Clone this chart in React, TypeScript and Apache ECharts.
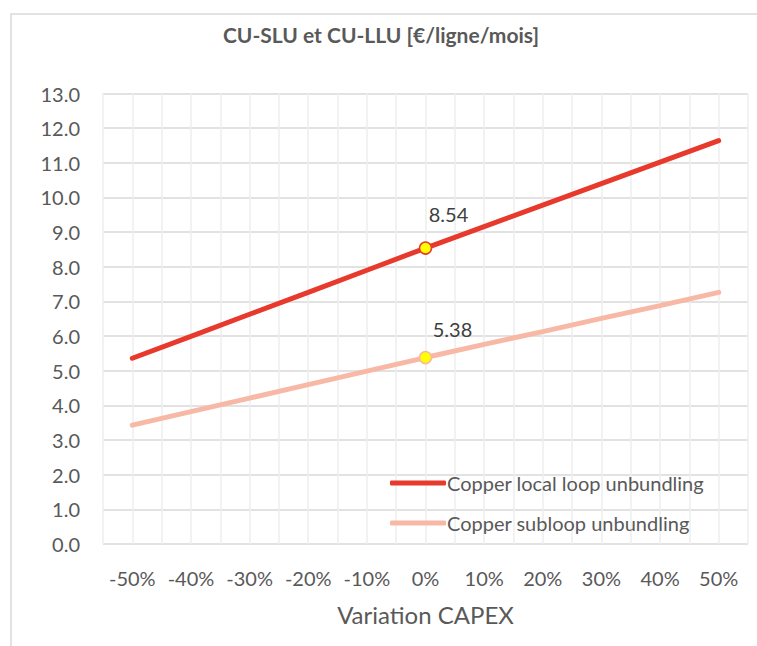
import React, { useEffect, useRef } from "react";
import * as echarts from "echarts";

const categories = [-50, -40, -30, -20, -10, 0, 10, 20, 30, 40, 50];
const llu = [5.36, 5.99, 6.63, 7.26, 7.90, 8.54, 9.16, 9.78, 10.40, 11.02, 11.64];
const slu = [3.43, 3.82, 4.21, 4.60, 4.99, 5.38, 5.76, 6.13, 6.51, 6.88, 7.26];
const seriesNames = ["Copper local loop unbundling", "Copper subloop unbundling"];
const title = "CU-SLU et CU-LLU [€/ligne/mois]";
const xName = "Variation CAPEX";

const FONT = "Lato, 'Open Sans', sans-serif";
const RED = "#E8392D";
const PINK = "#F8B8A6";

function buildData(vals: number[], border: string, labelOffset: number[]) {
  return categories.map((c, i) => {
    if (c === 0) {
      return {
        value: [c, vals[i]],
        symbol: "circle",
        symbolSize: 12,
        itemStyle: { color: "#FFFF00", borderColor: border, borderWidth: 1.5 },
        label: {
          show: true,
          position: "top",
          offset: labelOffset,
          formatter: (p: any) => p.value[1].toFixed(2),
          fontFamily: FONT,
          fontSize: 20,
          color: "#404040",
        },
      };
    }
    return { value: [c, vals[i]] };
  });
}

export default function App() {
  const ref = useRef<HTMLDivElement>(null);
  useEffect(() => {
    const chart = echarts.init(ref.current!, null, { renderer: "svg" });
    chart.setOption({
      animation: false,
      backgroundColor: "#ffffff",
      title: {
        text: title,
        left: 376,
        textAlign: "center",
        top: 19,
        textStyle: { fontFamily: FONT, fontSize: 21, fontWeight: "bold", color: "#595959" },
      },
      graphic: [
        {
          type: "rect",
          shape: { x: 11, y: 14, width: 800, height: 700 },
          style: { fill: "none", stroke: "#d9d9d9", lineWidth: 1.5 },
          silent: true,
        },
      ],
      legend: {
        left: 385,
        top: 468,
        orient: "vertical",
        itemGap: 20,
        itemWidth: 56,
        itemHeight: 5,
        icon: "roundRect",
        textStyle: { fontFamily: FONT, fontSize: 20, color: "#595959", padding: [0, 0, 0, -4] },
        data: seriesNames,
      },
      grid: { left: 103, right: 9, top: 93.5, bottom: 102 },
      xAxis: {
        type: "value",
        min: -55,
        max: 55,
        interval: 5,
        name: xName,
        nameLocation: "middle",
        nameGap: 58,
        nameTextStyle: { fontFamily: FONT, fontSize: 24, color: "#595959" },
        axisLine: { show: false },
        axisTick: { show: false },
        axisLabel: {
          margin: 24,
          fontFamily: FONT,
          fontSize: 20,
          color: "#595959",
          showMinLabel: true,
          showMaxLabel: true,
          formatter: (v: number) => (v % 10 === 0 ? `${v}%` : ""),
        },
        splitLine: { show: true, lineStyle: { color: "#eeeeee", width: 1.5 } },
      },
      yAxis: {
        type: "value",
        min: 0,
        max: 13,
        interval: 1,
        axisLine: { show: false },
        axisTick: { show: false },
        axisLabel: {
          margin: 23,
          fontFamily: FONT,
          fontSize: 20,
          color: "#595959",
          formatter: (v: number) => v.toFixed(1),
        },
        splitLine: { show: true, lineStyle: { color: "#d9d9d9", width: 1.5 } },
      },
      series: [
        {
          name: seriesNames[0],
          type: "line",
          symbol: "none",
          showSymbol: true,
          color: RED,
          lineStyle: { color: RED, width: 5, cap: "round" },
          data: buildData(llu, RED, [23, -12.5]),
          z: 3,
        },
        {
          name: seriesNames[1],
          type: "line",
          symbol: "none",
          showSymbol: true,
          color: PINK,
          lineStyle: { color: PINK, width: 5, cap: "round" },
          data: buildData(slu, PINK, [27, -7]),
          z: 2,
        },
      ],
    });
    return () => chart.dispose();
  }, []);
  return (
    <div
      ref={ref}
      style={{ position: "fixed", left: 0, top: 0, width: 757, height: 646 }}
    />
  );
}
